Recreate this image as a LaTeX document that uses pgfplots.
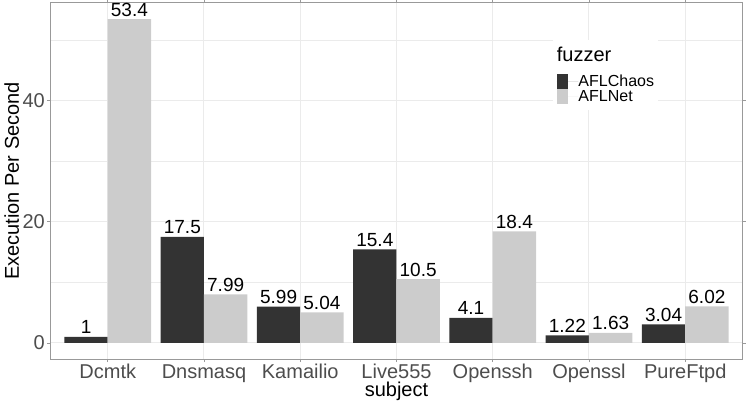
\documentclass[border=0pt]{standalone}
\usepackage{fontspec}
\setmainfont{Liberation Sans}
\usepackage{pgfplots}
\pgfplotsset{compat=1.18}
\definecolor{darkbar}{HTML}{333333}
\definecolor{lightbar}{HTML}{CCCCCC}
\definecolor{gridc}{HTML}{EBEBEB}
\definecolor{framec}{HTML}{999999}
\definecolor{tickc}{HTML}{9A9A9A}
\definecolor{ticklab}{HTML}{4D4D4D}
\begin{document}
\begin{tikzpicture}
\path[use as bounding box] (-50bp,-47bp) rectangle (697bp,359bp);
\begin{axis}[
  at={(0,0)}, anchor=south west,
  scale only axis, width=693bp, height=356bp,
  xmin=0.4, xmax=7.6, ymin=-2.67, ymax=56.07,
  ybar, bar width=0.45,
  clip=false,
  /pgf/number format/assume math mode=true,
  xtick={1,2,3,4,5,6,7},
  xticklabels={Dcmtk,Dnsmasq,Kamailio,Live555,Openssh,Openssl,PureFtpd},
  ytick={0,20,40}, yticklabels={0,20,40},
  minor ytick={10,30,50},
  xmajorgrids, ymajorgrids, yminorgrids,
  major grid style={gridc, line width=1bp},
  minor grid style={gridc, line width=0.5bp},
  axis line style={framec, line width=1bp},
  tick align=outside, major tick length=3bp, minor tick length=0pt,
  tick style={tickc, line width=0.6bp},
  xticklabel style={font=\fontsize{20bp}{24bp}\selectfont, text=ticklab, anchor=base, inner sep=0pt, yshift=-16bp},
  yticklabel style={font=\fontsize{20bp}{24bp}\selectfont, text=ticklab, anchor=east, inner sep=0pt, xshift=-2bp},
  xlabel={subject}, ylabel={Execution Per Second},
  xlabel style={at={(axis description cs:0.5,-0.10674)}, anchor=base, inner sep=0pt, font=\fontsize{20bp}{24bp}\selectfont},
  ylabel style={at={(axis description cs:-0.044733,0.5)}, anchor=base, inner sep=0pt, font=\fontsize{20bp}{24bp}\selectfont},
  nodes near coords,
  every node near coord/.append style={font=\fontsize{19bp}{23bp}\selectfont, text=black, anchor=base, inner sep=0pt, yshift=3bp},
  legend cell align=left,
  legend image code/.code={\fill[#1] (0bp,-7.35bp) rectangle (11bp,7.35bp); \path (0bp,0bp) -- (21.6bp,0bp);},
  legend style={at={(0.73117,0.79972)}, anchor=north west, draw=none, fill=none, inner sep=0pt, row sep=0pt,
    font=\fontsize{16bp}{19bp}\selectfont,
    nodes={inner sep=0pt, text height=11.6bp, text depth=2.4bp}},
]
\addplot[fill=darkbar, draw=none, bar shift=-0.225] coordinates {
  (1,1) (2,17.5) (3,5.99) (4,15.4) (5,4.1) (6,1.22) (7,3.04)};
\addlegendentry{AFLChaos}
\addplot[fill=lightbar, draw=none, bar shift=0.225] coordinates {
  (1,53.4) (2,7.99) (3,5.04) (4,10.5) (5,18.4) (6,1.63) (7,6.02)};
\addlegendentry{AFLNet}
\fill[white] (axis description cs:0.72583,0.69944) rectangle (axis description cs:0.87734,0.89607);
\node[anchor=base west, inner sep=0pt, font=\fontsize{20bp}{24bp}\selectfont] at (axis description cs:0.73117,0.83511) {fuzzer};
\end{axis}
\end{tikzpicture}
\end{document}
